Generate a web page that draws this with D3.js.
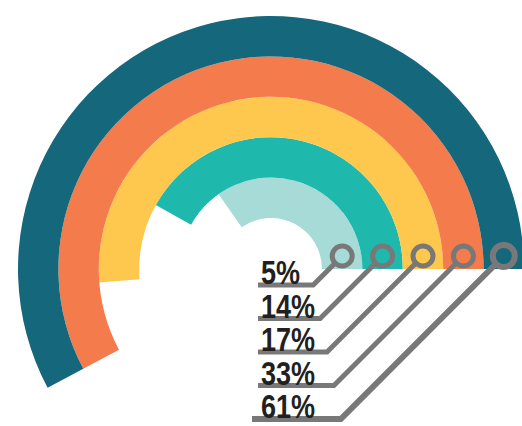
<!DOCTYPE html>
<html>
<head>
<meta charset="utf-8">
<script src="https://cdn.jsdelivr.net/npm/d3@7"></script>
<style>
    body { margin: 0; background: #fff; }
    #chart-area { width: 522px; height: 426px; }
</style>
</head>
<body>
<div id="chart-area"></div>
<script>
// values, innermost ring first
let labels = ["5%", "14%", "17%", "33%", "61%"];
let arcEndDeg = [125, 151, 184.5, 208, 208]; // how far each ring sweeps, counter-clockwise from 3 o'clock
let ringColors = ["#a6dbd7", "#1eb8ad", "#fdc84d", "#f37b4c", "#15677c"];

class RainbowVis {

    constructor(_parentElement, _labels, _ends, _colors) {
        this.parentElement = _parentElement;
        this.labels = _labels;
        this.ends = _ends;
        this.colors = _colors;
        this.initVis();
    }

    initVis() {
        let vis = this;

        vis.width = 522;
        vis.height = 426;
        vis.center = {x: 271, y: 269};

        vis.svg = d3.select("#" + vis.parentElement).append("svg")
            .attr("width", vis.width)
            .attr("height", vis.height);

        // ring index -> radius (inner edge), each ring ~40px thick
        vis.rScale = d3.scaleLinear()
            .domain([0, vis.labels.length])
            .range([51, 253]);

        // label rows
        vis.yScale = d3.scalePoint()
            .domain(vis.labels)
            .range([285, 419]);

        vis.wrangleData();
    }

    wrangleData() {
        let vis = this;

        vis.displayData = vis.labels.map((d, i) => {
            return {
                label: d,
                end: vis.ends[i],
                color: vis.colors[i],
                r0: vis.rScale(i),
                r1: vis.rScale(i + 1),
                rm: (vis.rScale(i) + vis.rScale(i + 1)) / 2
            };
        });

        vis.updateVis();
    }

    updateVis() {
        let vis = this;

        let g = vis.svg.append("g")
            .attr("transform", "translate(" + vis.center.x + "," + vis.center.y + ")");

        // d3 angles go clockwise from 12 o'clock
        let arc = d3.arc()
            .innerRadius(d => d.r0)
            .outerRadius(d => d.r1)
            .startAngle(Math.PI / 2)
            .endAngle(d => (90 - d.end) * Math.PI / 180);

        g.selectAll(".ring")
            .data(vis.displayData)
            .enter().append("path")
            .attr("class", "ring")
            .attr("d", arc)
            .attr("fill", d => d.color);

        let markerY = vis.center.y - 13;
        let last = vis.displayData.length - 1;

        // leader lines: horizontal under the label, then 45deg up to the marker
        vis.svg.selectAll(".leader")
            .data(vis.displayData)
            .enter().append("polyline")
            .attr("class", "leader")
            .attr("points", (d, i) => {
                let y = vis.yScale(d.label);
                let mx = vis.center.x + d.rm;
                let kx = mx - (y - markerY);
                let x0 = i === last ? 252 : 258;
                return [[x0, y], [kx, y], [mx, markerY]].map(p => p.join(",")).join(" ");
            })
            .attr("fill", "none")
            .attr("stroke", "#787878")
            .attr("stroke-width", (d, i) => i === last ? 6 : 5);

        vis.svg.selectAll(".marker")
            .data(vis.displayData)
            .enter().append("circle")
            .attr("class", "marker")
            .attr("cx", d => vis.center.x + d.rm)
            .attr("cy", markerY)
            .attr("r", (d, i) => i === last ? 11 : 10)
            .attr("fill", d => d.color)
            .attr("stroke", "#787878")
            .attr("stroke-width", (d, i) => i === last ? 6 : 5);

        // condensed bold look: squeeze a regular bold face horizontally
        vis.svg.selectAll(".pct")
            .data(vis.displayData)
            .enter().append("text")
            .attr("class", "pct")
            .attr("transform", d => "translate(261," + (vis.yScale(d.label) - 1) + ") scale(0.82,1)")
            .attr("fill", "#231f20")
            .style("font-family", "'Liberation Sans', Arial, sans-serif")
            .style("font-weight", "bold")
            .style("font-size", "33px")
            .text(d => d.label);
    }
}

let rainbow = new RainbowVis("chart-area", labels, arcEndDeg, ringColors);
</script>
</body>
</html>
